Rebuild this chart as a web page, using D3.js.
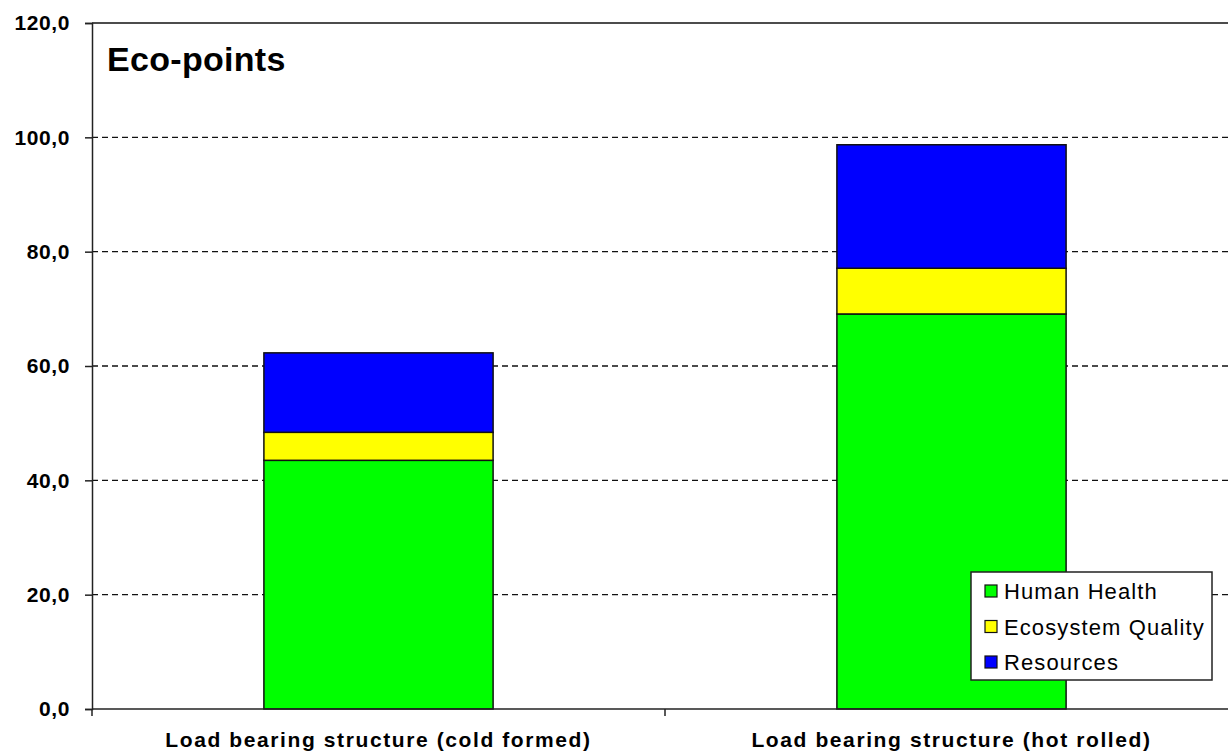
<!DOCTYPE html>
<html>
<head>
<meta charset="utf-8">
<style>
    body { margin: 0; background: white; font-family: Arial, "Liberation Sans", sans-serif; }
    svg { display: block; }
</style>
<script src="https://cdn.jsdelivr.net/npm/d3@7"></script>
</head>
<body>
<svg id="chart"></svg>
<script>
// data
let categories = ["Load bearing structure (cold formed)", "Load bearing structure (hot rolled)"];
let seriesNames = ["Human Health", "Ecosystem Quality", "Resources"];
let humanHealth = [43.5, 69.1];
let ecosystemQuality = [4.9, 8.0];
let resources = [13.9, 21.6];
let yTicks = [0, 20, 40, 60, 80, 100, 120];
let colors = ["#00ff00", "#ffff00", "#0000ff"];

let width = 1228, height = 751;
let margin = { top: 23, left: 92, bottom: 42, right: -10 };
let svg = d3.select("#chart").attr("width", width).attr("height", height);

let table = categories.map((c, i) => ({
    cat: c,
    "Human Health": humanHealth[i],
    "Ecosystem Quality": ecosystemQuality[i],
    "Resources": resources[i]
}));
let stacked = d3.stack().keys(seriesNames)(table);

let x = d3.scaleBand()
    .domain(categories)
    .range([margin.left, width - margin.right])
    .padding(0);
let y = d3.scaleLinear()
    .domain([0, 120])
    .range([height - margin.bottom, margin.top]);

// gridlines (top one is the solid plot border)
svg.append("g").selectAll("line")
    .data(yTicks.filter(t => t > 0))
    .enter().append("line")
    .attr("x1", margin.left).attr("x2", width)
    .attr("y1", d => y(d)).attr("y2", d => y(d))
    .attr("stroke", "#111")
    .attr("stroke-width", 1.4)
    .attr("stroke-dasharray", d => d === 120 ? null : "6,4");

// bars
let barW = x.bandwidth() * 0.4;
svg.append("g").selectAll("g")
    .data(stacked)
    .enter().append("g")
    .attr("fill", (d, i) => colors[i])
    .selectAll("rect")
    .data(d => d)
    .enter().append("rect")
    .attr("x", d => x(d.data.cat) + (x.bandwidth() - barW) / 2)
    .attr("width", barW)
    .attr("y", d => y(d[1]))
    .attr("height", d => y(d[0]) - y(d[1]))
    .attr("stroke", "#111")
    .attr("stroke-width", 1.5);

// y axis
let yAxis = d3.axisLeft(y)
    .tickValues(yTicks)
    .tickSize(7)
    .tickPadding(15)
    .tickFormat(d => d.toFixed(1).replace(".", ","));
let yg = svg.append("g")
    .attr("transform", `translate(${margin.left},0)`)
    .call(yAxis);
yg.select(".domain").attr("stroke", "#222").attr("stroke-width", 1.5);
yg.selectAll(".tick line").attr("stroke", "#222").attr("stroke-width", 1.5);
yg.selectAll(".tick text")
    .attr("font-family", "Arial, 'Liberation Sans', sans-serif")
    .attr("font-size", 21)
    .attr("letter-spacing", 0.6)
    .attr("font-weight", "bold")
    .attr("fill", "#000");

// x axis line with category boundary ticks
let xg = svg.append("g").attr("transform", `translate(0,${y(0)})`);
xg.append("line")
    .attr("x1", margin.left).attr("x2", width)
    .attr("stroke", "#222").attr("stroke-width", 1.5);
let bounds = categories.map(c => x(c)).concat([x.range()[1]]);
xg.selectAll(".btick").data(bounds)
    .enter().append("line")
    .attr("class", "btick")
    .attr("x1", d => d).attr("x2", d => d)
    .attr("y1", 0).attr("y2", 7)
    .attr("stroke", "#222").attr("stroke-width", 1.5);
let xAxis = d3.axisBottom(x).tickSize(0).tickPadding(23);
let xl = svg.append("g")
    .attr("transform", `translate(0,${y(0)})`)
    .call(xAxis);
xl.select(".domain").remove();
xl.selectAll(".tick text")
    .attr("font-family", "Arial, 'Liberation Sans', sans-serif")
    .attr("font-size", 21)
    .attr("letter-spacing", 1.6)
    .attr("font-weight", "bold")
    .attr("fill", "#000");

// title
svg.append("text")
    .attr("x", 107).attr("y", 71)
    .attr("font-size", 34)
    .attr("letter-spacing", 0.3)
    .attr("font-weight", "bold")
    .attr("fill", "#000")
    .text("Eco-points");

// legend
let legend = svg.append("g").attr("transform", "translate(971,572)");
legend.append("rect")
    .attr("width", 241).attr("height", 108)
    .attr("fill", "white")
    .attr("stroke", "#222").attr("stroke-width", 1.5);
let items = legend.selectAll(".item").data(seriesNames)
    .enter().append("g")
    .attr("class", "item")
    .attr("transform", (d, i) => `translate(14,${19 + i * 35.5})`);
items.append("rect")
    .attr("x", 0).attr("y", -6)
    .attr("width", 12).attr("height", 12)
    .attr("fill", (d, i) => colors[i])
    .attr("stroke", "#111").attr("stroke-width", 1.2);
items.append("text")
    .attr("x", 19).attr("y", 8)
    .attr("font-size", 22)
    .attr("letter-spacing", 1.1)
    .attr("fill", "#000")
    .text(d => d);
</script>
</body>
</html>
